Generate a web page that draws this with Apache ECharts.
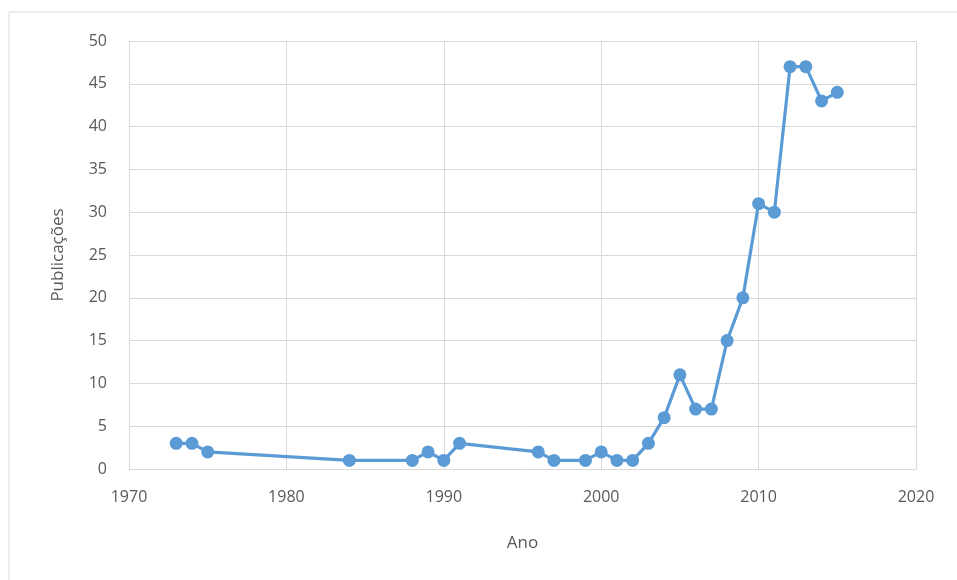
<!DOCTYPE html>
<html><head><meta charset="utf-8">
<script src="https://cdn.jsdelivr.net/npm/echarts@6/dist/echarts.min.js"></script>
<style>html,body{margin:0;padding:0;background:#fff;}#c{width:957px;height:580px;}</style>
</head><body><div id="c"></div>
<script>
const years = [1973,1974,1975,1984,1988,1989,1990,1991,1996,1997,1999,2000,2001,2002,2003,2004,2005,2006,2007,2008,2009,2010,2011,2012,2013,2014,2015];
const publications = [3,3,2,1,1,2,1,3,2,1,1,2,1,1,3,6,11,7,7,15,20,31,30,47,47,43,44];
const xTicks = [1970,1980,1990,2000,2010,2020];
const yTicks = [0,5,10,15,20,25,30,35,40,45,50];

const chart = echarts.init(document.getElementById('c'), null, {renderer:'canvas'});
const font = '"Open Sans", "Liberation Sans", sans-serif';
chart.setOption({
  animation:false,
  backgroundColor:'#fff',
  graphic:[{type:'rect', shape:{x:9,y:12,width:1000,height:700}, style:{fill:'none',stroke:'#d9d9d9',lineWidth:1}, silent:true}],
  grid:{left:129,right:41,top:41,bottom:111,containLabel:false},
  xAxis:{type:'value',min:xTicks[0],max:xTicks[xTicks.length-1],interval:10,
    name:'Ano',nameLocation:'middle',nameGap:66,
    nameTextStyle:{color:'#595959',fontSize:17,fontFamily:font},
    axisLine:{show:true,lineStyle:{color:'#d9d9d9',width:1}},
    axisTick:{show:false},
    axisLabel:{color:'#595959',fontSize:16,fontFamily:font,margin:20,formatter:v=>String(v)},
    splitLine:{show:true,lineStyle:{color:'#d9d9d9',width:1}}},
  yAxis:{type:'value',min:yTicks[0],max:yTicks[yTicks.length-1],interval:5,
    name:'Publicações',nameLocation:'middle',nameGap:62,nameRotate:90,
    nameTextStyle:{color:'#595959',fontSize:17,fontFamily:font},
    axisLine:{show:true,lineStyle:{color:'#d9d9d9',width:1}},
    axisTick:{show:false},
    axisLabel:{color:'#595959',fontSize:16,fontFamily:font,margin:22,padding:[0,0,3,0],formatter:v=>String(v)},
    splitLine:{show:true,lineStyle:{color:'#d9d9d9',width:1}}},
  series:[{type:'line',data:years.map((y,i)=>[y,publications[i]]),
    symbol:'circle',symbolSize:13,
    lineStyle:{color:'#5b9bd5',width:3.2},
    itemStyle:{color:'#5b9bd5'}}]
});
</script></body></html>
